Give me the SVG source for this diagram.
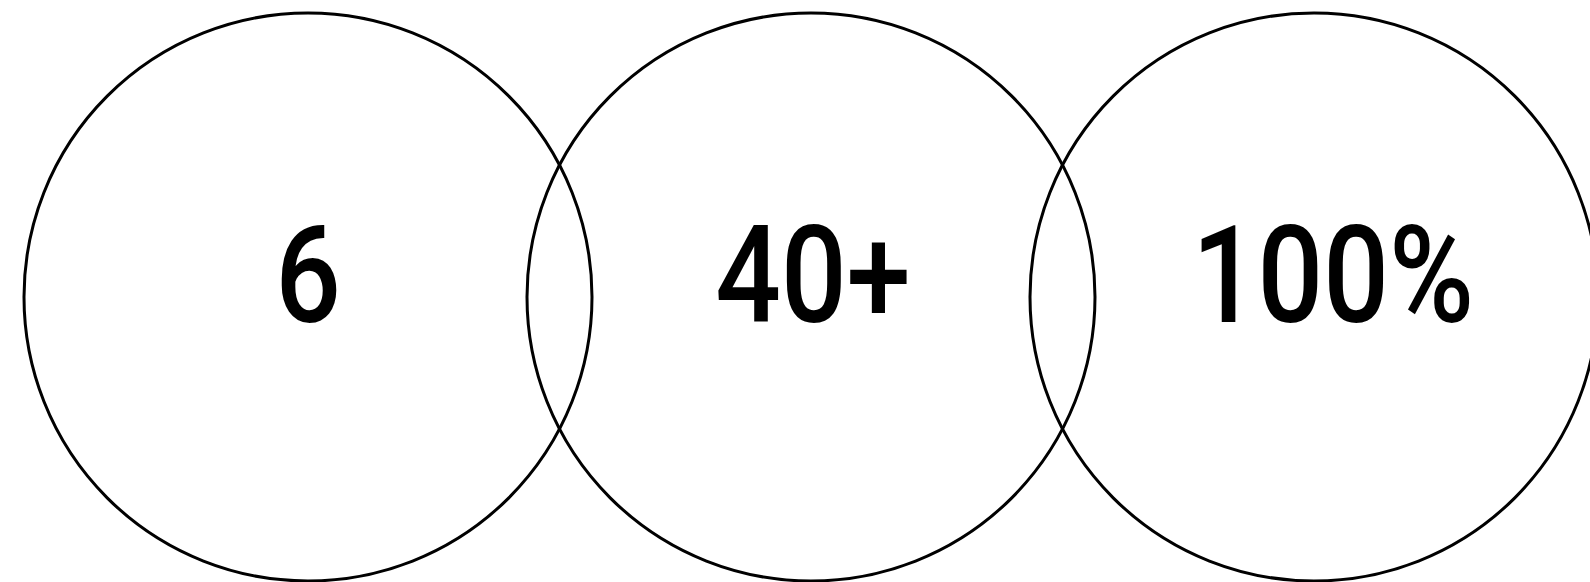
<svg xmlns="http://www.w3.org/2000/svg" width="1590" height="582" viewBox="0 0 1590 582">
<style>
.c{fill:none;stroke:#000;stroke-width:3}
.t{font-family:Roboto,"Liberation Sans",sans-serif;font-size:136px;font-weight:500;fill:#000;text-anchor:middle}
</style>
<rect width="1590" height="582" fill="#fff"/>
<g id="node-1"><circle class="c" cx="308" cy="297" r="284"/><text class="t" transform="translate(308,322) scale(0.85,1)">6</text></g>
<g id="node-2"><circle class="c" cx="811" cy="297" r="284"/><text class="t" transform="translate(813,322) scale(0.85,1)">40+</text></g>
<g id="node-3"><circle class="c" cx="1314" cy="297" r="284"/><text class="t" transform="translate(1333,322) scale(0.85,1)">100%</text></g>
<g id="connectors"></g>
</svg>
